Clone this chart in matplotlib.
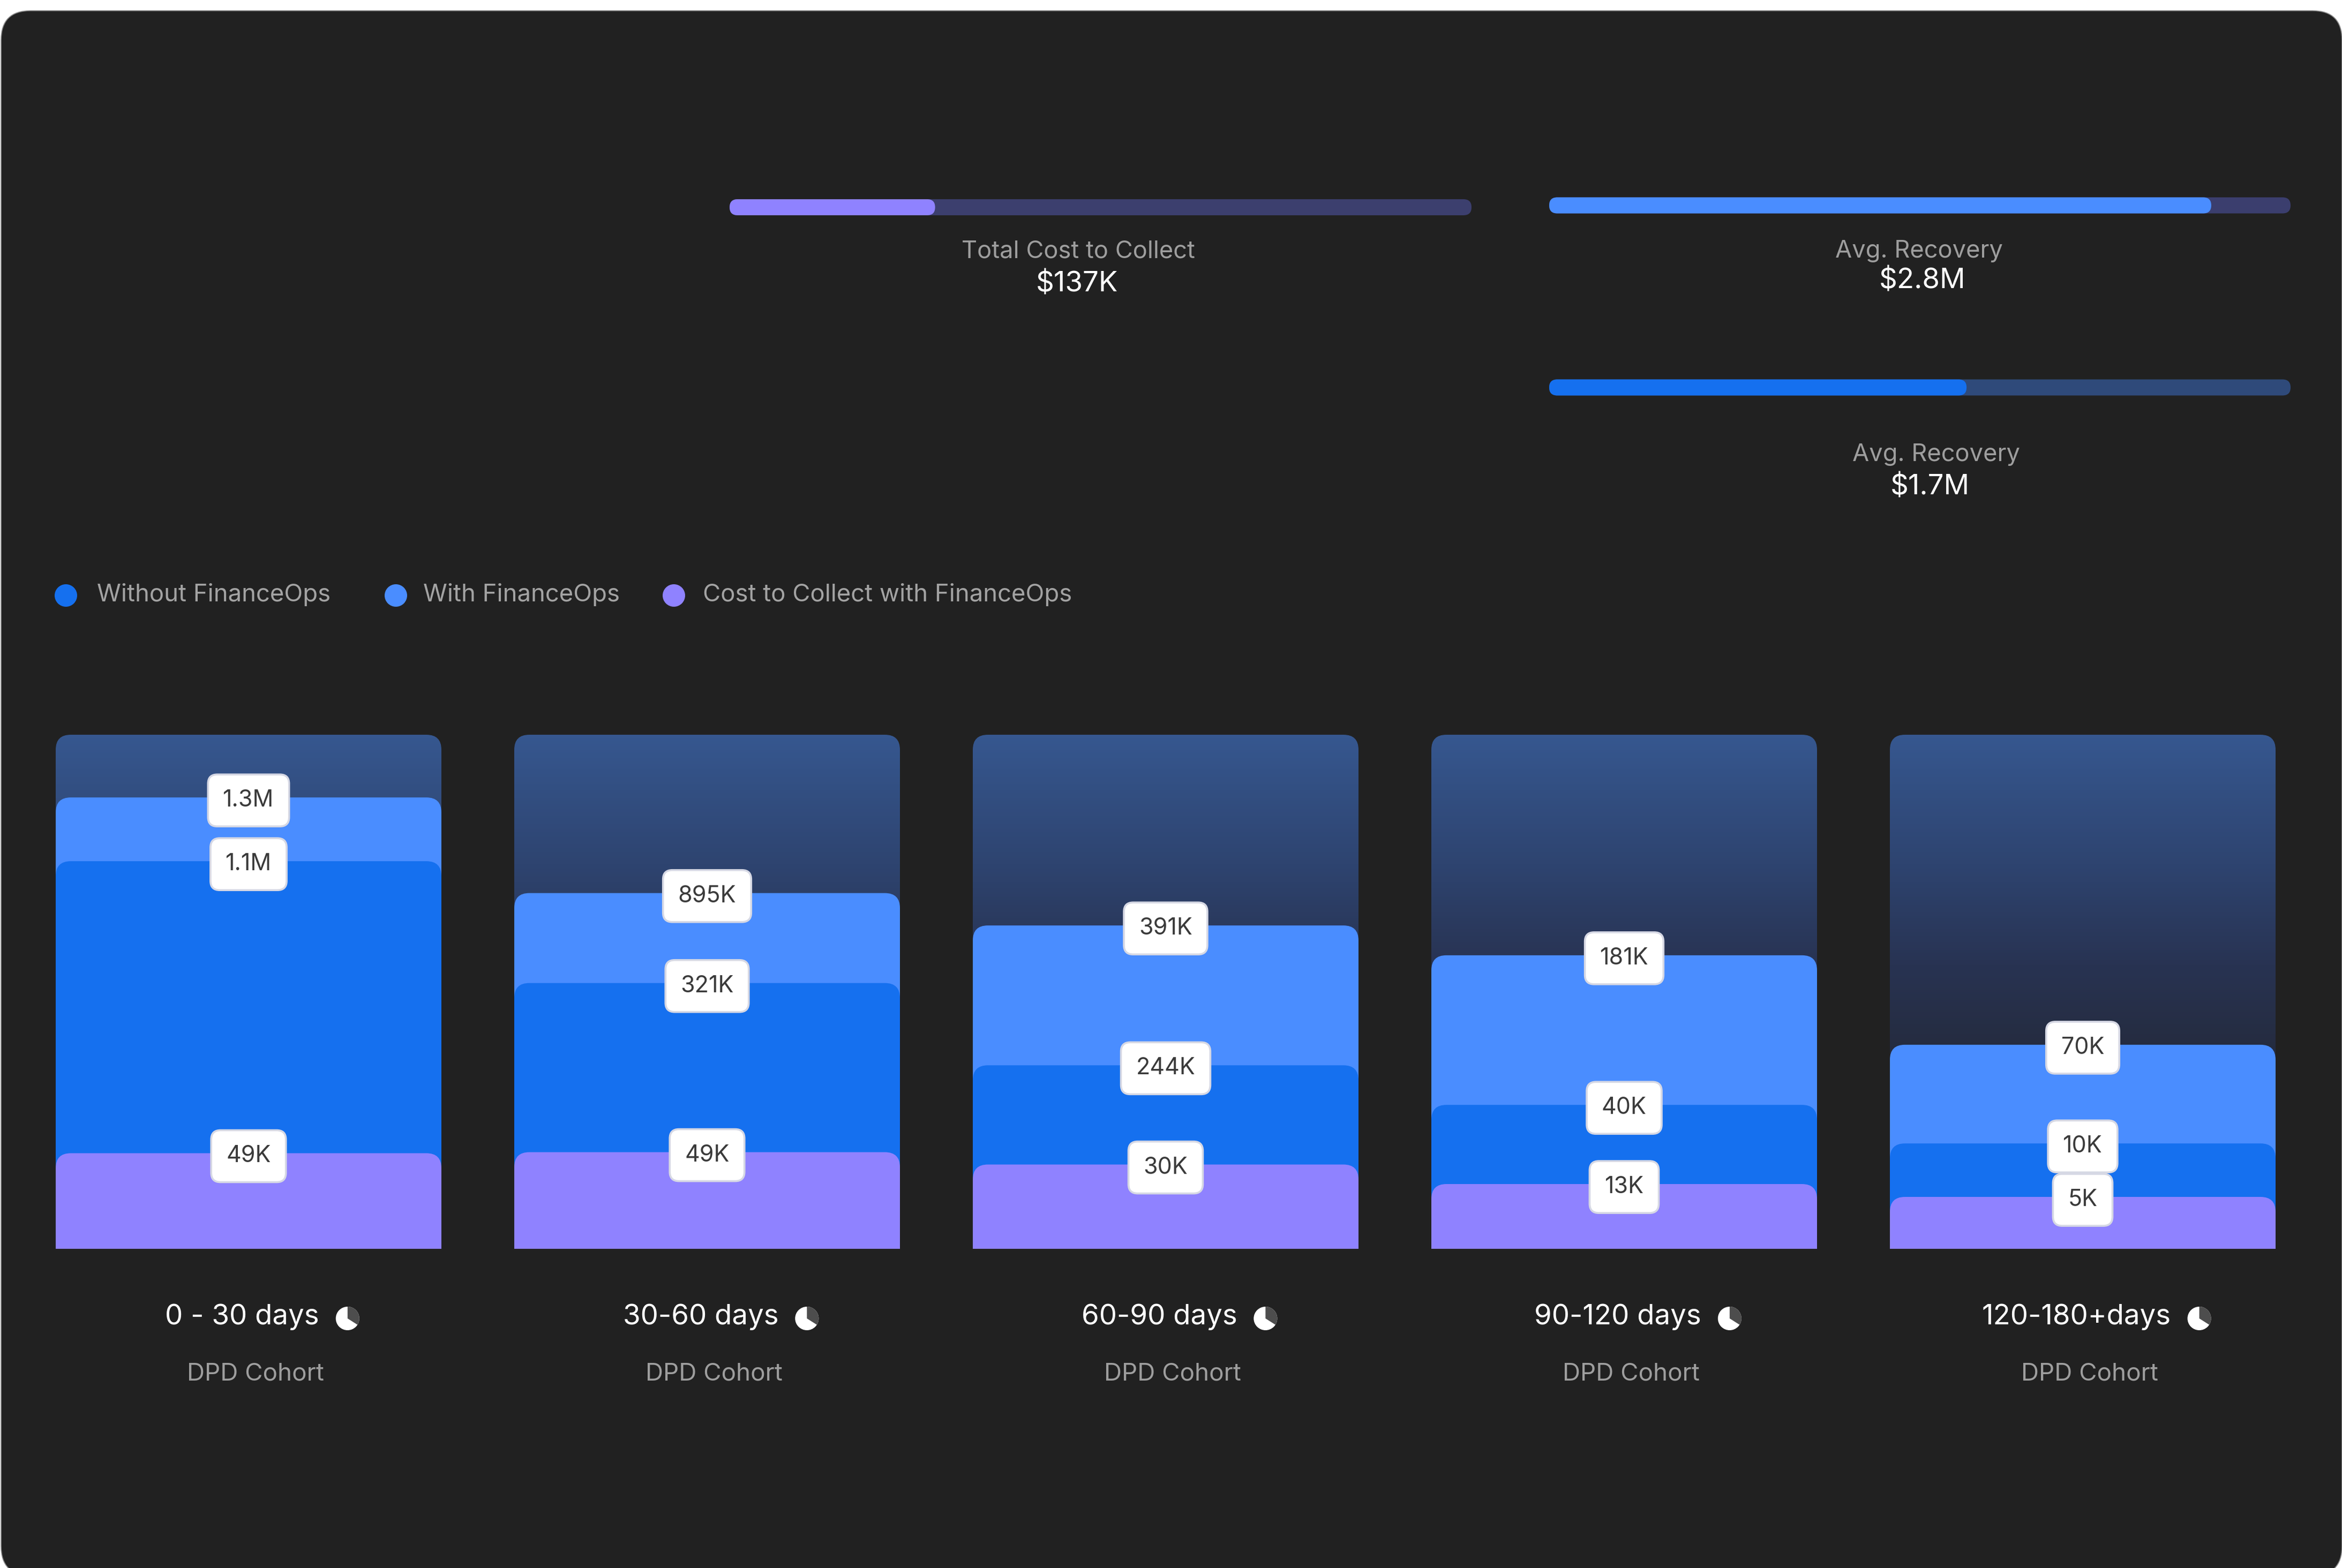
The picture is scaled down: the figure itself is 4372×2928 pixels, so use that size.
import numpy as np
import matplotlib
matplotlib.use("Agg")
import matplotlib.pyplot as plt
from matplotlib.patches import FancyBboxPatch, Circle, Wedge
from matplotlib.colors import LinearSegmentedColormap

plt.rcParams['font.family'] = ['Inter', 'DejaVu Sans']

# ---------------- data ----------------
cohorts = ["0 - 30 days", "30-60 days", "60-90 days", "90-120 days", "120-180+days"]
cohort_sub = "DPD Cohort"
# fill level of each layer, in % of the column height (as drawn in the reference)
with_fo_level = [87.8, 69.2, 62.9, 57.1, 39.7]
without_fo_level = [75.4, 51.7, 35.7, 28.0, 20.5]
cost_level = [18.6, 18.8, 16.4, 12.6, 10.1]
with_fo_labels = ["1.3M", "895K", "391K", "181K", "70K"]
without_fo_labels = ["1.1M", "321K", "244K", "40K", "10K"]
cost_labels = ["49K", "49K", "30K", "13K", "5K"]
series_names = ["Without FinanceOps", "With FinanceOps", "Cost to Collect with FinanceOps"]
summary_titles = ["Total Cost to Collect", "Avg. Recovery", "Avg. Recovery"]
summary_values = ["$137K", "$2.8M", "$1.7M"]
summary_fill = [0.277, 0.893, 0.563]
pie_share = 0.34

# ---------------- style ----------------
C_WITHOUT = '#1570ef'
C_WITH = '#4a8dff'
C_COST = '#8f82ff'
PANEL = '#212121'
GRAY = '#9e9e9e'

W, H = 4372, 2928
DPI = 200
fig = plt.figure(figsize=(W / DPI, H / DPI), dpi=DPI)
fig.patch.set_facecolor('white')

# overlay axes in pixel coordinates (layout elements)
ov = fig.add_axes([0, 0, 1, 1], zorder=0)
ov.set_xlim(0, W)
ov.set_ylim(H, 0)
ov.axis('off')

ov.add_patch(FancyBboxPatch((2, 20), W - 2, 2942 - 20,
                            boxstyle="round,pad=0,rounding_size=55",
                            fc=PANEL, ec='#8a8a8a', lw=0.6))

# summary progress bars
bar_specs = [(1362, 2747, 387), (2892, 4276, 383.5), (2892, 4276, 723.5)]
track_cols = ['#3c3f6e', '#3b3e6e', '#2f4a7a']
fill_cols = [C_COST, C_WITH, C_WITHOUT]
title_pos = [(2013, 470), (3582, 469), (3615, 849)]
value_pos = [(2010, 531), (3589, 525), (3603, 910)]
th = 30
for k in range(3):
    x0, x1, yc = bar_specs[k]
    ov.add_patch(FancyBboxPatch((x0, yc - th / 2), x1 - x0, th,
                                boxstyle=f"round,pad=0,rounding_size={th/2}",
                                fc=track_cols[k], ec='none'))
    ov.add_patch(FancyBboxPatch((x0, yc - th / 2), summary_fill[k] * (x1 - x0), th,
                                boxstyle=f"round,pad=0,rounding_size={th/2}",
                                fc=fill_cols[k], ec='none'))
    ov.text(*title_pos[k], summary_titles[k], ha='center', va='center',
            fontsize=16.3, color=GRAY)
    ov.text(*value_pos[k], summary_values[k], ha='center', va='center',
            fontsize=19, color='white')

# legend
leg_dots = [(123, 1112), (739, 1112), (1258, 1112)]
leg_text_x = [181, 790, 1312]
leg_cols = [C_WITHOUT, C_WITH, C_COST]
for k in range(3):
    ov.add_patch(Circle(leg_dots[k], 21, fc=leg_cols[k], ec='none'))
    ov.text(leg_text_x[k], 1110, series_names[k], ha='left', va='center',
            fontsize=16.4, color='#a3a3a3')

# ---------------- columns ----------------
pitch = 856.0
col_w_px = 720.0
col_h_px = 960.0
ax = fig.add_axes([36 / W, (H - 2332) / H, 4280 / W, col_h_px / H], zorder=1)
ax.patch.set_alpha(0)
n = len(cohorts)
w = col_w_px / pitch
asp = pitch / (col_h_px / 100.0)
rx = 28 / pitch

cmap = LinearSegmentedColormap.from_list(
    'bg', [(0.0, '#36578f'), (0.25, '#2e4470'), (0.45, '#283352'),
           (0.65, '#242a3b'), (1.0, '#212328')])
grad = np.linspace(0, 1, 256).reshape(-1, 1)


def rounded_top(xc, top, **kw):
    return FancyBboxPatch((xc - w / 2, -10), w, top + 10,
                          boxstyle=f"round,pad=0,rounding_size={rx}",
                          mutation_aspect=asp, **kw)


for i in range(n):
    bg = rounded_top(i, 100, fc='none', ec='none')
    ax.add_patch(bg)
    im = ax.imshow(grad, extent=(i - w / 2, i + w / 2, 0, 100), aspect='auto',
                   cmap=cmap, origin='upper', interpolation='bicubic', zorder=1)
    im.set_clip_path(bg)
    for lvl, col, z in ((with_fo_level[i], C_WITH, 2),
                        (without_fo_level[i], C_WITHOUT, 3),
                        (cost_level[i], C_COST, 4)):
        ax.add_patch(rounded_top(i, lvl, fc=col, ec='none', zorder=z))
    for lvl, lbl in ((with_fo_level[i], with_fo_labels[i]),
                     (without_fo_level[i], without_fo_labels[i]),
                     (cost_level[i], cost_labels[i])):
        ax.annotate(lbl, xy=(i, lvl), xytext=(0, -2), textcoords='offset points',
                    ha='center', va='center', fontsize=15.5, color='#3a3a3a',
                    bbox=dict(boxstyle='round,pad=0.65,rounding_size=0.4',
                              fc='white', ec='#d6d8e4', lw=1.3),
                    zorder=7, annotation_clip=False)

ax.set_xlim(-0.5, n - 0.5)
ax.set_ylim(0, 100)
ax.axis('off')

# category labels with pie icons
renderer = fig.canvas.get_renderer()
for i in range(n):
    cx = 464 + pitch * i
    t = ov.text(cx - 12, 2459, cohorts[i], ha='center', va='center',
                fontsize=19, color='white')
    bb = t.get_window_extent(renderer=renderer)
    ix = bb.x1 + 53
    iy = 2462
    ov.add_patch(Circle((ix, iy), 22, fc='white', ec='none'))
    ov.add_patch(Wedge((ix, iy), 22, -90, -90 + 360 * pie_share, fc='#4d4d4d', ec='none'))
    ov.text(cx + 13, 2565, cohort_sub, ha='center', va='center',
            fontsize=16.5, color=GRAY)

fig.savefig('out.png', dpi=DPI, facecolor=fig.get_facecolor())
